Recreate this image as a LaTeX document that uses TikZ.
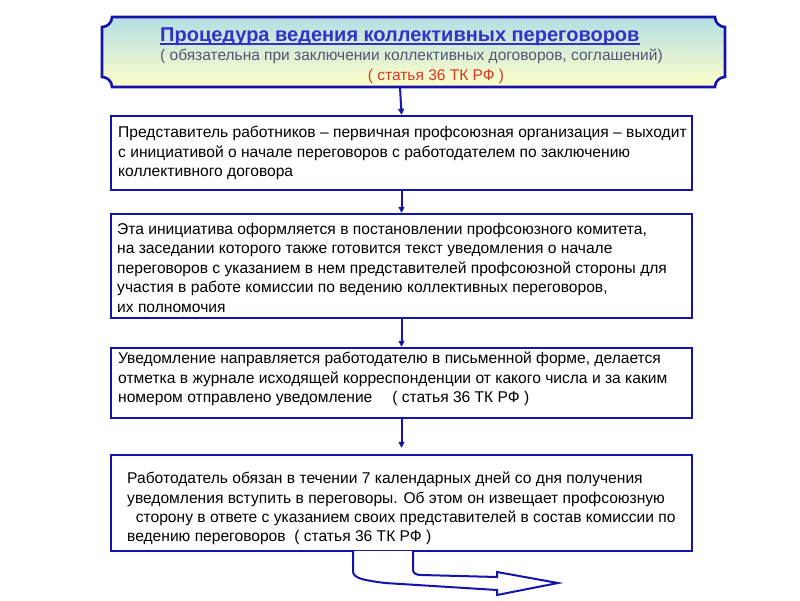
\documentclass[tikz,border=0pt]{standalone}
\usepackage{fontspec}
\setmainfont{Liberation Sans}
\usetikzlibrary{arrows.meta,calc}
\definecolor{bord}{RGB}{20,20,170}
\definecolor{ttl}{RGB}{50,50,200}
\definecolor{sub}{RGB}{85,85,115}
\definecolor{redt}{RGB}{215,55,35}
\definecolor{topc}{RGB}{180,222,228}
\definecolor{botc}{RGB}{255,255,200}
\tikzset{
  stepbox/.style={draw=bord,line width=2.4pt,fill=white,rectangle,inner sep=0pt,minimum width=581pt},
  boxtext/.style={anchor=north west,align=left,inner sep=0pt,font=\fontsize{15.6}{19.4}\selectfont,text=black},
  link/.style={draw=bord,line width=2pt,-{Triangle[width=6pt,length=6pt]}}
}
\begin{document}
\begin{tikzpicture}[x=1pt,y=-1pt]
\useasboundingbox (0,0) rectangle (800,600);
% title box with concave corners
\path[draw=bord,line width=2.6pt,top color=topc,bottom color=botc]
 (112,17) -- (715,17) .. controls (715,22.5) and (719.5,27) .. (725,27)
 -- (725,77) .. controls (719.5,77) and (715,81.5) .. (715,87)
 -- (112,87) .. controls (112,81.5) and (107.5,77) .. (102,77)
 -- (102,27) .. controls (107.5,27) and (112,22.5) .. (112,17) -- cycle;
\coordinate (tbot) at (400,87);
\node[anchor=base west,inner sep=0pt,text=ttl,font=\fontsize{20}{24}\bfseries] (ttext) at (160,41) {Процедура ведения коллективных переговоров};
\draw[ttl,line width=1.8pt] ($(ttext.base west)+(0,3)$) -- ($(ttext.base east)+(0,3)$);
\node[anchor=base west,inner sep=0pt,text=sub,font=\fontsize{15.5}{17}\selectfont] (tsub) at (160,60) {( обязательна при заключении коллективных договоров, соглашений)};
\node[anchor=base,inner sep=0pt,text=redt,font=\fontsize{15.5}{17}\selectfont] (tred) at (436,80) {( статья 36 ТК РФ )};
% boxes
\node[stepbox,minimum height=74pt] (b1) at (401.5,153) {};
\node[stepbox,minimum height=104pt] (b2) at (401.5,266) {};
\node[stepbox,minimum height=70pt] (b3) at (401.5,383) {};
\node[stepbox,minimum height=96pt] (b4) at (401.5,503) {};
\node[boxtext] (t1) at (118,126) {Представитель работников – первичная профсоюзная организация – выходит\\с инициативой о начале переговоров с работодателем по заключению\\коллективного договора};
\node[boxtext] (t2) at (117,223) {Эта инициатива оформляется в постановлении профсоюзного комитета,\\на заседании которого также готовится текст уведомления о начале\\переговоров с указанием в нем представителей профсоюзной стороны для\\участия в работе комиссии по ведению коллективных переговоров,\\их полномочия};
\node[boxtext] (t3) at (118,352) {Уведомление направляется работодателю в письменной форме, делается\\отметка в журнале исходящей корреспонденции от какого числа и за каким\\номером отправлено уведомление\quad\ ( статья 36 ТК РФ )};
\node[boxtext] (t4) at (127,472) {Работодатель обязан в течении 7 календарных дней со дня получения\\уведомления вступить в переговоры. Об этом он извещает профсоюзную\\\ \ сторону в ответе с указанием своих представителей в состав комиссии по\\ведению переговоров\ \ ( статья 36 ТК РФ )};
% connectors
\draw[link] (tbot) -- (b1.north);
\draw[link] (b1.south) -- (b2.north);
\draw[link] (b2.south) -- (b3.north);
\draw[link] (b3.south) -- ($(b4.north)+(0,-6)$);
% bottom curved block arrow
\coordinate (aL) at (353,551);
\coordinate (aR) at (413,551);
\coordinate (tip) at (558,583);
\draw[draw=bord,line width=2pt,fill=white]
 (aL) -- (353,571) .. controls (353,578) and (362,580) .. (385,583)
 -- (497,590) -- (497,595) -- (tip) -- (497,572) -- (497,577)
 -- (422,575) .. controls (415,575) and (413,573) .. (413,569) -- (aR);
\end{tikzpicture}
\end{document}
